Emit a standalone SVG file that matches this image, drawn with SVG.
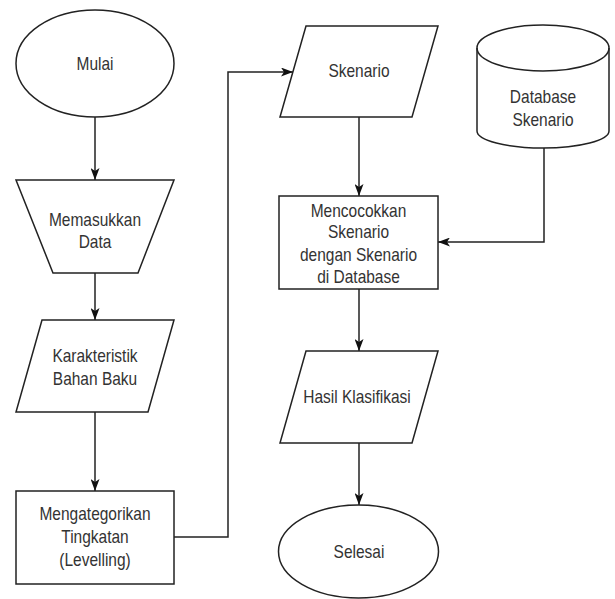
<svg xmlns="http://www.w3.org/2000/svg" width="615" height="599" viewBox="0 0 615 599">
<style>
.shape{fill:#fff;stroke:#222;stroke-width:1.5}
.edge{fill:none;stroke:#222;stroke-width:1.5}
.lbl{font-family:"Liberation Sans",Arial,sans-serif;font-size:15.5px;fill:#333;text-anchor:middle}
</style>
<defs>
<marker id="arr" markerUnits="userSpaceOnUse" markerWidth="12" markerHeight="9" viewBox="0 0 12 9" refX="12" refY="4.5" orient="auto">
<path d="M0,0 L12,4.5 L0,9 L3,4.5 Z" fill="#111"/>
</marker>
</defs>
<rect width="615" height="599" fill="#fff"/>
<g id="edges">
<path class="edge" d="M95,117 V180" marker-end="url(#arr)"/>
<path class="edge" d="M95,273 V320" marker-end="url(#arr)"/>
<path class="edge" d="M95,412 V491" marker-end="url(#arr)"/>
<path class="edge" d="M174,537 H228 V72 H293" marker-end="url(#arr)"/>
<path class="edge" d="M359,117 V196" marker-end="url(#arr)"/>
<path class="edge" d="M544,148 V242 H438" marker-end="url(#arr)"/>
<path class="edge" d="M359,289 V351" marker-end="url(#arr)"/>
<path class="edge" d="M359,443 V505" marker-end="url(#arr)"/>
</g>
<g id="mulai">
<ellipse class="shape" cx="95" cy="63.5" rx="79" ry="53.5"/>
<g transform="translate(95,70) scale(1,1.2)"><text class="lbl" x="0" y="0">Mulai</text></g>
</g>
<g id="memasukkan">
<polygon class="shape" points="16,180 174,180 138,273 53,273"/>
<g transform="translate(95,226) scale(1,1.2)"><text class="lbl" x="0" y="0">Memasukkan</text><text class="lbl" x="0" y="18.3">Data</text></g>
</g>
<g id="karakteristik">
<polygon class="shape" points="42,320 174,320 148,412 16,412"/>
<g transform="translate(95,362) scale(1,1.2)"><text class="lbl" x="0" y="0">Karakteristik</text><text class="lbl" x="0" y="19.5">Bahan Baku</text></g>
</g>
<g id="mengategorikan">
<rect class="shape" x="16" y="491" width="158" height="93"/>
<g transform="translate(95,520) scale(1,1.2)"><text class="lbl" x="0" y="0">Mengategorikan</text><text class="lbl" x="0" y="19.2">Tingkatan</text><text class="lbl" x="0" y="38.3">(Levelling)</text></g>
</g>
<g id="skenario">
<polygon class="shape" points="306,26 438,26 412,117 280,117"/>
<g transform="translate(359,77) scale(1,1.2)"><text class="lbl" x="0" y="0">Skenario</text></g>
</g>
<g id="database">
<path class="shape" d="M477,48 A66,23 0 0 1 609,48 V131 A66,17 0 0 1 477,131 Z"/>
<path class="shape" style="fill:none" d="M477,48 A66,23 0 0 0 609,48"/>
<g transform="translate(543,103) scale(1,1.2)"><text class="lbl" x="0" y="0">Database</text><text class="lbl" x="0" y="19.2">Skenario</text></g>
</g>
<g id="mencocokkan">
<rect class="shape" x="279" y="196" width="159" height="93"/>
<g transform="translate(358.5,217) scale(1,1.2)"><text class="lbl" x="0" y="0">Mencocokkan</text><text class="lbl" x="0" y="17.8">Skenario</text><text class="lbl" x="0" y="36.7">dengan Skenario</text><text class="lbl" x="0" y="55">di Database</text></g>
</g>
<g id="hasil">
<polygon class="shape" points="306,351 438,351 412,443 280,443"/>
<g transform="translate(357,403) scale(1,1.2)"><text class="lbl" x="0" y="0">Hasil Klasifikasi</text></g>
</g>
<g id="selesai">
<ellipse class="shape" cx="358.5" cy="551.5" rx="80" ry="46.5"/>
<g transform="translate(359,558) scale(1,1.2)"><text class="lbl" x="0" y="0">Selesai</text></g>
</g>
</svg>
